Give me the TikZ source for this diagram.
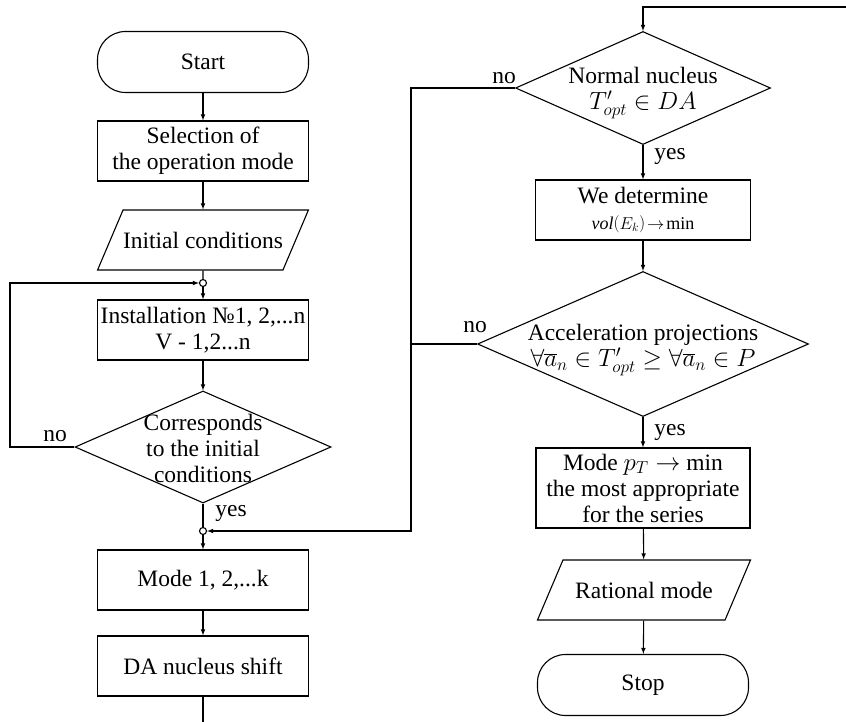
\documentclass[tikz,border=0pt]{standalone}
\usepackage{fontspec}
\setmainfont{Liberation Serif}
\usetikzlibrary{shapes, arrows, positioning}
\tikzstyle{terminal}=[draw, rectangle, rounded corners=28pt, minimum width=211pt, minimum height=61pt, inner sep=0pt]
\tikzstyle{block}=[draw, rectangle, minimum width=211pt, minimum height=60pt, inner sep=2pt, align=center]
\tikzstyle{io}=[draw, trapezium, trapezium left angle=67, trapezium right angle=113, trapezium stretches body, minimum width=209pt, text height=19pt, text depth=2pt, inner ysep=19.5pt, inner xsep=0pt]
\tikzstyle{decision}=[draw, diamond, inner sep=0pt]
\tikzstyle{joint}=[draw, circle, inner sep=0pt, minimum size=7pt, fill=white]
\tikzstyle{flow}=[-latex]

\begin{document}
\begin{tikzpicture}[x=1pt, y=-1pt, line width=1.1pt, font=\fontsize{23.5}{26}\selectfont]
    \useasboundingbox (0,0) rectangle (846,722);

    % left column
    \node[terminal] (start) at (203,62) {Start};
    \node[block] (select) at (203,151) {Selection of\\the operation mode};
    \node[io] (initcond) at (203,240) {Initial conditions};
    \node[block] (install) at (203,330) {Installation №1, 2,...n\\V - 1,2...n};
    \node[decision, minimum width=256pt, minimum height=112pt] (corresp) at (203,447) {};
    \node[align=center] (correspT) at (203,448) {Corresponds\\to the initial\\conditions};
    \node[block] (modes) at (203,580) {Mode 1, 2,...k};
    \node[block] (shift) at (203,666) {DA nucleus shift};
    \node[joint] (j1) at (203,283) {};
    \node[joint] (j2) at (203,531) {};
    \coordinate (loopL) at (10,283);
    \coordinate (shiftEnd) at (203,722);
    \node (noL) at (55,436) {no};
    \node (yesL) at (231,513) {yes};

    % right column
    \coordinate (topR) at (846,7);
    \coordinate (topC) at (643,7);
    \node[decision, minimum width=255pt, minimum height=113pt] (normal) at (643,88) {};
    \node[align=center] (normalT) at (643,93) {Normal nucleus\\$T'_{opt}\in DA$};
    \node[block, minimum width=215pt] (determine) at (643,210) {We determine\\{\fontsize{18}{21}\selectfont $\mathit{vol}\bigl(E_{k}\bigr)\!\rightarrow\!\mathrm{min}$}};
    \node[decision, minimum width=331pt, minimum height=145pt] (accel) at (643,344) {};
    \node[align=center] (accelT) at (643,350) {Acceleration projections\\$\forall\overline{a}_{n}\in T'_{opt}\geq\forall\overline{a}_{n}\in P$};
    \node[block, minimum width=214pt, minimum height=80pt] (modept) at (643,488) {Mode $p_{T}\rightarrow$ min\\the most appropriate\\for the series};
    \node[io, minimum width=213pt] (rational) at (644,590) {Rational mode};
    \node[terminal] (stop) at (643,685) {Stop};
    \coordinate (busTop) at (411,88);
    \coordinate (busMid) at (411,344);
    \coordinate (busBot) at (411,531);
    \node (noN) at (504,78) {no};
    \node (yesN) at (670,157) {yes};
    \node (noA) at (475,327) {no};
    \node (yesA) at (670,432) {yes};

    % left flow
    \draw[flow] (start) -- (select);
    \draw[flow] (select) -- (initcond);
    \draw (initcond) -- (j1);
    \draw[flow] (j1) -- (install);
    \draw[flow] (install) -- (corresp);
    \draw[flow] (corresp.west) -| (loopL) -- (j1);
    \draw (corresp) -- (j2);
    \draw[flow] (j2) -- (modes);
    \draw[flow] (modes) -- (shift);
    \draw (shift) -- (shiftEnd);

    % right flow
    \draw[flow] (topR) -- (topC) -- (normal);
    \draw[flow] (normal) -- (determine);
    \draw[flow] (determine) -- (accel);
    \draw[flow] (accel) -- (modept);
    \draw[flow] (modept) -- (rational);
    \draw[flow] (rational) -- (stop);
    \draw[flow] (normal.west) -- (busTop) -- (busBot) -- (j2);
    \draw (accel.west) -- (busMid);

\end{tikzpicture}
\end{document}
